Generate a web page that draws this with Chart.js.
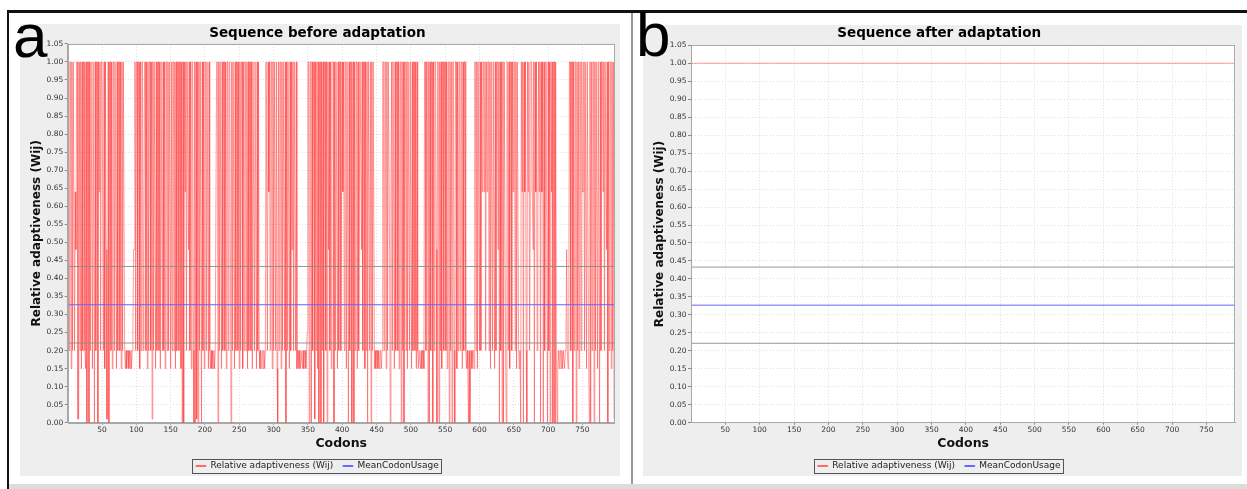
<!DOCTYPE html>
<html>
<head>
<meta charset="utf-8">
<script src="https://cdn.jsdelivr.net/npm/chart.js@4.4.1/dist/chart.umd.min.js"></script>
<style>
  html, body { margin: 0; padding: 0; background: #fff; }
  body { width: 1247px; height: 489px; position: relative; overflow: hidden; font-family: "DejaVu Sans", sans-serif; }
  .frame-top { position: absolute; left: 7px; top: 10px; width: 1240px; height: 3px; background: #111; }
  .frame-left { position: absolute; left: 7px; top: 10px; width: 2px; height: 479px; background: #111; }
  .divider { position: absolute; left: 631px; top: 13px; width: 2px; height: 472px; background: #9a9a9a; }
  .footer { position: absolute; left: 9px; top: 484px; width: 1238px; height: 5px; background: #dcdcdc; }
  .panel { position: absolute; background: #eeeeee; }
  #panelA { left: 20px; top: 24px; width: 600px; height: 452px; }
  #panelB { left: 643px; top: 25px; width: 599px; height: 451px; }
  .holder { position: absolute; }
  #holderA { left: 20px; top: 24px; width: 600px; height: 457px; }
  #holderB { left: 643px; top: 24px; width: 599px; height: 457px; }
  .letter { position: absolute; font-family: "Liberation Sans", Arial, sans-serif; font-size: 62px; line-height: 62px; color: #000; }
  #letterA { left: 13px; top: 5px; }
  #letterB { left: 636px; top: 4px; }
</style>
</head>
<body>
<div class="frame-top"></div>
<div class="frame-left"></div>
<div class="divider"></div>
<div class="footer"></div>
<div class="panel" id="panelA"></div>
<div class="panel" id="panelB"></div>
<div class="holder" id="holderA"><canvas id="chartA" width="600" height="457"></canvas></div>
<div class="holder" id="holderB"><canvas id="chartB" width="599" height="457"></canvas></div>
<div class="letter" id="letterA">a</div>
<div class="letter" id="letterB">b</div>

<script>
// ---- data ----
const titleBefore = 'Sequence before adaptation';
const titleAfter = 'Sequence after adaptation';
const xAxisTitle = 'Codons';
const yAxisTitle = 'Relative adaptiveness (Wij)';
const seriesNames = ['Relative adaptiveness (Wij)', 'MeanCodonUsage'];

const xTickValues = [50, 100, 150, 200, 250, 300, 350, 400, 450, 500, 550, 600, 650, 700, 750];
const yTickLabels = ['0.00', '0.05', '0.10', '0.15', '0.20', '0.25', '0.30', '0.35', '0.40', '0.45', '0.50',
                     '0.55', '0.60', '0.65', '0.70', '0.75', '0.80', '0.85', '0.90', '0.95', '1.00', '1.05'];

// w_ij levels used by the codons of the original sequence
const wijLevels = { a: 1.00, b: 0.64, c: 0.48, d: 0.25, e: 0.20, f: 0.15, g: 0.01, h: 0.00 };

// per-codon w_ij of the original sequence (codons 1..796), one letter per codon
const wijBeforeCodes = [
  'aeaafaeaae', 'bcaaggaeaf', 'aeaaefahaa', 'haeaafaaha', 'eaahabaeaa',
  'aeafacggah', 'aaeafaaeaa', 'faeaaeafae', 'aaefefeefe', 'fefedccaea',
  'aeaafaeaae', 'caaeafaeaa', 'eagaeaafae', 'aaeafaaeae', 'afaaeaeaaf',
  'aeaaeafaea', 'aeaafahaha', 'baeaacaeaf', 'aaehahagah', 'aeaahaeafa',
  'aeaafaefef', 'efefeeaaha', 'eaafaeaaea', 'faaeaachae', 'aafaeaaeaf',
  'aeaafaeaae', 'afaeaaeafa', 'aeaafaeaef', 'efeefefeaa', 'eabaeaafae',
  'aaeafhaeaa', 'faeaaeahae', 'aafaeacaea', 'aeafeefefe', 'efefeefeda',
  'ahaahaeaag', 'aeafahaaha', 'eahaaeahac', 'aeafaaahae', 'aafaeaaeba',
  'baeaafaaha', 'eaahcahaea', 'afaebaacae', 'aafaeahaae', 'ahaeaafefe',
  'efefeefeaa', 'eaafaeaach', 'baeaafaeaa', 'eafaahaeah', 'aaeafaaeaa',
  'faeaaeafae', 'feefefeefa', 'aeaahahaea', 'ahaeaachaa', 'haeafaaeaa',
  'eafaahaeah', 'aaehaafaea', 'aeaafaeaae', 'fefhehfefe', 'efaaeafaae',
  'aeabaabaea', 'baaeafaaea', 'afaeaacaha', 'eahahaaeha', 'aeafaaeaba',
  'aeafaaefeh', 'abahabaeha', 'baebaabcah', 'abaecabaha', 'bahaebaaha',
  'eahabahaah', 'aehfefeefe', 'feefedcefe', 'aaeaahaeaa', 'haeafaaeab',
  'baeaafaaeh', 'ahaeaahaea', 'afaahaeaab', 'aeaacahaea', 'afaeag'
].join('');

// adapted sequence: every codon (1..791) uses its optimal codon
const wijAfterRuns = [[1, 791, 1.00]];

const meanCodonUsage = 0.327;
const bandUpper = 0.433;
const bandLower = 0.221;

const xMaxBefore = 797;
const xMaxAfter = 792;

// ---- build points ----
const beforePoints = wijBeforeCodes.split('').map((ch, i) => ({ x: i + 1, y: wijLevels[ch] }));
const afterPoints = [];
wijAfterRuns.forEach(([from, to, v]) => { afterPoints.push({ x: from, y: v }); afterPoints.push({ x: to, y: v }); });

const FONT = '"DejaVu Sans", sans-serif';
const RED_KEY = 'rgb(255,105,105)';
const BLUE_KEY = 'rgb(105,105,255)';

// white plot area, grey frame around it and a box around the legend
const plotFrame = {
  id: 'plotFrame',
  beforeDraw(chart) {
    const { ctx, chartArea: a } = chart;
    ctx.save();
    ctx.fillStyle = '#ffffff';
    ctx.fillRect(a.left, a.top, a.right - a.left, a.bottom - a.top);
    ctx.restore();
  },
  afterDraw(chart) {
    const { ctx, chartArea: a } = chart;
    ctx.save();
    ctx.strokeStyle = '#a8a8a8';
    ctx.lineWidth = 1;
    ctx.strokeRect(Math.round(a.left) + 0.5, Math.round(a.top) + 0.5,
                   Math.round(a.right - a.left) - 1, Math.round(a.bottom - a.top));
    const boxes = chart.legend && chart.legend.legendHitBoxes;
    if (boxes && boxes.length) {
      let l = Infinity, t = Infinity, r = -Infinity, b = -Infinity;
      boxes.forEach(h => { l = Math.min(l, h.left); t = Math.min(t, h.top); r = Math.max(r, h.left + h.width); b = Math.max(b, h.top + h.height); });
      ctx.strokeStyle = '#555555';
      ctx.strokeRect(Math.round(l - 4) + 0.5, Math.round(t - 3) + 0.5, Math.round(r - l + 6), Math.round(b - t + 5));
    }
    ctx.restore();
  }
};

function makeChart(id, title, redPoints, xMax, yAxisWidth, rightPad, titleBottom) {
  const lineDs = (label, v, color, order) => ({
    label, data: [{ x: 0, y: v }, { x: xMax, y: v }],
    borderColor: color, borderWidth: 1, pointRadius: 0, order
  });
  return new Chart(document.getElementById(id), {
    type: 'line',
    data: {
      datasets: [
        { label: seriesNames[0], data: redPoints, borderColor: 'rgba(255, 60, 60, 0.5)', backgroundColor: RED_KEY,
          borderWidth: 1, pointRadius: 0, tension: 0, order: 4 },
        lineDs(seriesNames[1], meanCodonUsage, 'rgb(100, 100, 255)', 1),
        lineDs('upper', bandUpper, 'rgba(140, 140, 140, 0.9)', 2),
        lineDs('lower', bandLower, 'rgba(140, 140, 140, 0.9)', 3)
      ]
    },
    options: {
      responsive: false,
      animation: false,
      events: [],
      layout: { padding: { left: 0, right: rightPad, top: 0, bottom: 0.5 } },
      plugins: {
        title: { display: true, text: title, color: '#000', font: { family: FONT, size: 13.5, weight: 'bold' },
                 padding: { top: 1.5, bottom: titleBottom } },
        legend: {
          position: 'bottom',
          labels: {
            font: { family: FONT, size: 9 }, color: '#222', boxWidth: 10, boxHeight: 1, padding: 9.8,
            filter: item => item.datasetIndex < 2,
            sort: (p, q) => p.datasetIndex - q.datasetIndex,
            generateLabels: chart => chart.data.datasets.map((ds, i) => ({
              text: ds.label, datasetIndex: i, fillStyle: i === 0 ? RED_KEY : BLUE_KEY,
              strokeStyle: i === 0 ? RED_KEY : BLUE_KEY, lineWidth: 1, hidden: false, fontColor: '#222'
            }))
          }
        },
        tooltip: { enabled: false }
      },
      scales: {
        x: {
          type: 'linear', min: 0, max: xMax,
          afterBuildTicks: s => { s.ticks = xTickValues.map(v => ({ value: v })); },
          afterFit: s => { s.height = 29; },
          ticks: { font: { family: FONT, size: 7.5 }, color: '#333', padding: 1, maxRotation: 0, autoSkip: false,
                   callback: v => String(v) },
          grid: { color: '#dedede', lineWidth: 1, drawTicks: true, tickLength: 2, tickColor: '#888' },
          border: { display: true, color: '#a8a8a8', dash: [1, 2] },
          title: { display: true, text: xAxisTitle, color: '#111', font: { family: FONT, size: 12.5, weight: 'bold' },
                   padding: { top: 0, bottom: 0 } }
        },
        y: {
          type: 'linear', min: 0, max: 1.05,
          afterBuildTicks: s => { s.ticks = yTickLabels.map(t => ({ value: parseFloat(t) })); },
          afterFit: s => { s.width = yAxisWidth; },
          ticks: { font: { family: FONT, size: 7.5 }, color: '#333', padding: 1.5, autoSkip: false,
                   callback: (v, i) => yTickLabels[i] },
          grid: { color: '#dedede', lineWidth: 1, drawTicks: true, tickLength: 3, tickColor: '#888' },
          border: { display: true, color: '#a8a8a8', dash: [1, 2] },
          title: { display: true, text: yAxisTitle, color: '#111', font: { family: FONT, size: 12, weight: 'bold' },
                   padding: { top: 9.5, bottom: 0 } }
        }
      }
    },
    plugins: [plotFrame]
  });
}

makeChart('chartA', titleBefore, beforePoints, xMaxBefore, 47.7, 5.3, 2.2);
makeChart('chartB', titleAfter, afterPoints, xMaxAfter, 48, 6.7, 3.6);
</script>
</body>
</html>
